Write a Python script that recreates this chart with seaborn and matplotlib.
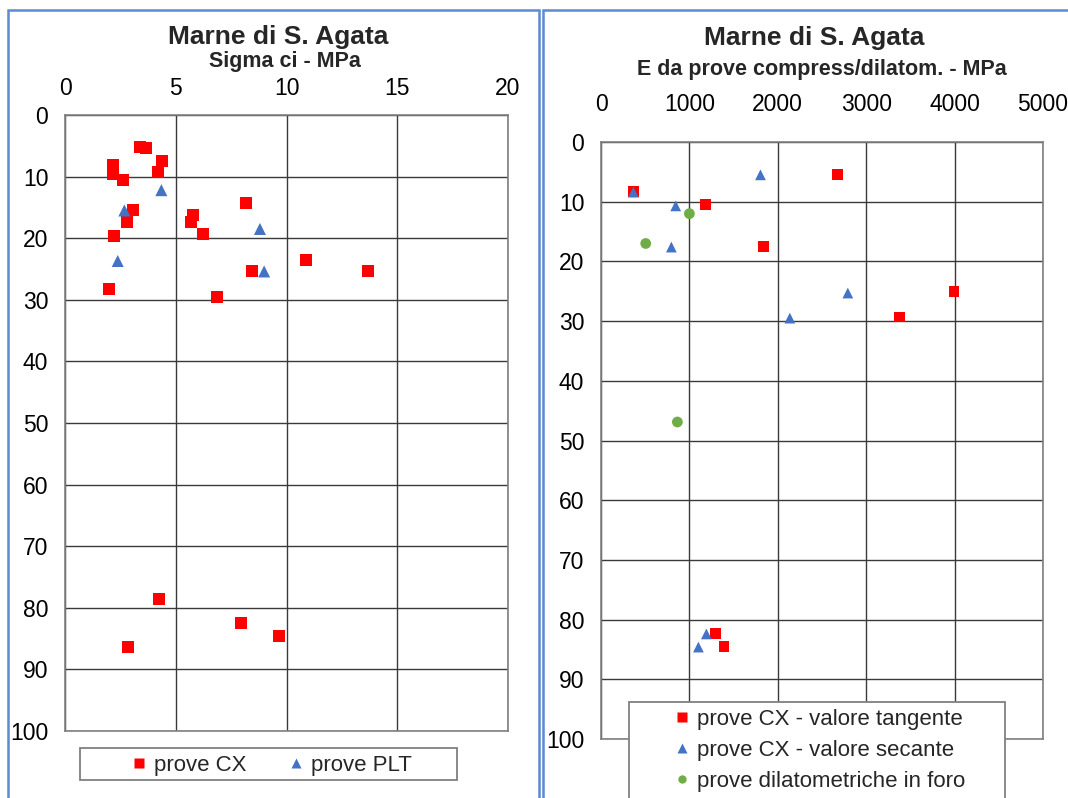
import numpy as np
import pandas as pd
import matplotlib
matplotlib.use("Agg")
import matplotlib.pyplot as plt
import seaborn as sns
from matplotlib.patches import Rectangle

# Left chart: Sigma ci (MPa) vs depth (m)
cx_sigma = [3.37, 3.67, 4.38, 2.15, 2.15, 4.19, 2.6, 3.07, 2.79, 2.23, 8.18, 5.77, 5.71, 6.25,
            10.9, 13.69, 8.46, 1.97, 6.88, 4.26, 7.95, 9.65, 2.86]
cx_depth = [5.2, 5.4, 7.4, 8.2, 9.5, 9.2, 10.5, 15.5, 17.4, 19.6, 14.3, 16.3, 17.4, 19.3,
            23.5, 25.3, 25.4, 28.3, 29.5, 78.6, 82.4, 84.5, 86.4]
plt_sigma = [4.35, 2.68, 8.8, 2.38, 8.99]
plt_depth = [12.2, 15.5, 18.5, 23.7, 25.4]

# Right chart: E (MPa) vs depth (m)
tan_E = [366, 2675, 1181, 1834, 3992, 3374, 1291, 1392]
tan_depth = [8.25, 5.4, 10.5, 17.5, 25.1, 29.3, 82.3, 84.5]
sec_E = [366, 1804, 845, 796, 2792, 2136, 1192, 1102]
sec_depth = [8.4, 5.5, 10.7, 17.6, 25.3, 29.5, 82.4, 84.6]
dil_E = [1000, 506, 864]
dil_depth = [12.0, 17.0, 46.9]

RED = "#FF0000"
BLUE = "#4472C4"
GREEN = "#70AD47"

sns.set_theme(style="white")
plt.rcParams["font.family"] = ["Liberation Sans", "DejaVu Sans"]

W, H = 1068, 798
fig = plt.figure(figsize=(W / 100, H / 100), dpi=100)

def fbox(x0, y0, x1, y1):
    # pixel box (top-left origin) to figure fraction rect
    return [x0 / W, 1 - y1 / H, (x1 - x0) / W, (y1 - y0) / H]

def frame(x0, y0, x1, y1, color, lw, z=5):
    r = Rectangle((x0 / W, 1 - y1 / H), (x1 - x0) / W, (y1 - y0) / H,
                  transform=fig.transFigure, fc="white", ec=color, lw=lw, zorder=z)
    fig.patches.append(r)

# blue chart borders
fig.patches.append(Rectangle((8 / W, -0.01), (539 - 8) / W, 1 - 10 / H + 0.01,
                             transform=fig.transFigure, fill=False, ec="#5B8BD0", lw=1.8))
fig.patches.append(Rectangle((543 / W, -0.01), (1080 - 543) / W, 1 - 10 / H + 0.01,
                             transform=fig.transFigure, fill=False, ec="#5B8BD0", lw=1.8))

left = pd.DataFrame({
    "x": cx_sigma + plt_sigma,
    "depth": cx_depth + plt_depth,
    "serie": ["prove CX"] * len(cx_sigma) + ["prove PLT"] * len(plt_sigma),
})
right = pd.DataFrame({
    "x": tan_E + sec_E + dil_E,
    "depth": tan_depth + sec_depth + dil_depth,
    "serie": ["prove CX - valore tangente"] * len(tan_E)
             + ["prove CX - valore secante"] * len(sec_E)
             + ["prove dilatometriche in foro"] * len(dil_E),
})


def style_axis(ax, xmax, xstep, xpad, ypad):
    ax.set_xlim(0, xmax)
    ax.set_ylim(100, 0)
    ax.set_xticks(np.arange(0, xmax + 1, xstep))
    ax.set_yticks(np.arange(0, 101, 10))
    ax.xaxis.tick_top()
    ax.tick_params(axis="both", length=0, labelsize=16.5, colors="black")
    ax.tick_params(axis="x", pad=xpad)
    ax.tick_params(axis="y", pad=ypad)
    ax.grid(True, color="#3a3a3a", lw=1.0)
    ax.set_axisbelow(True)
    for s in ax.spines.values():
        s.set_color("#808080")
        s.set_linewidth(1.2)
    ax.set_xlabel("")
    ax.set_ylabel("")


ax1 = fig.add_axes(fbox(65, 115, 508, 731))
sns.scatterplot(data=left, x="x", y="depth", hue="serie", style="serie",
                palette={"prove CX": RED, "prove PLT": BLUE},
                markers={"prove CX": "s", "prove PLT": "^"},
                s=75, linewidth=0, ax=ax1, legend=False, zorder=3)
style_axis(ax1, 20, 5, 11, 12)

ax2 = fig.add_axes(fbox(601, 142, 1043, 739))
sns.scatterplot(data=right, x="x", y="depth", hue="serie", style="serie",
                palette={"prove CX - valore tangente": RED,
                         "prove CX - valore secante": BLUE,
                         "prove dilatometriche in foro": GREEN},
                markers={"prove CX - valore tangente": "s",
                         "prove CX - valore secante": "^",
                         "prove dilatometriche in foro": "o"},
                s=60, linewidth=0, ax=ax2, legend=False, zorder=3)
style_axis(ax2, 5000, 1000, 19, 12)

# titles
fig.text(278 / W, 1 - 37 / H, "Marne di S. Agata", ha="center", va="center",
         fontsize=19, fontweight="bold")
fig.text(285 / W, 1 - 62 / H, "Sigma ci - MPa", ha="center", va="center",
         fontsize=15.5, fontweight="bold")
fig.text(814 / W, 1 - 38 / H, "Marne di S. Agata", ha="center", va="center",
         fontsize=19, fontweight="bold")
fig.text(822 / W, 1 - 69 / H, "E da prove compress/dilatom. - MPa", ha="center", va="center",
         fontsize=15.5, fontweight="bold")

# legends (frames drawn separately, like the Excel fixed-size boxes)
frame(80, 748, 457, 780, "#808080", 1.3, z=1)
h1 = [plt.Line2D([], [], ls="", marker="s", ms=7, color=RED, mec="none"),
      plt.Line2D([], [], ls="", marker="^", ms=7, color=BLUE, mec="none")]
fig.legend(h1, ["prove CX", "prove PLT"], ncol=2, fontsize=16,
           loc="center left", bbox_to_anchor=(130 / W, 1 - 765 / H),
           frameon=False, handlelength=0.8, handletextpad=0.3, columnspacing=1.8,
           borderpad=0, borderaxespad=0)

frame(629, 702, 1005, 810, "#808080", 1.3, z=2)
h2 = [plt.Line2D([], [], ls="", marker="s", ms=7, color=RED, mec="none"),
      plt.Line2D([], [], ls="", marker="^", ms=7, color=BLUE, mec="none"),
      plt.Line2D([], [], ls="", marker="o", ms=6, color=GREEN, mec="none")]
leg2 = fig.legend(h2, ["prove CX - valore tangente", "prove CX - valore secante",
                       "prove dilatometriche in foro"], fontsize=16,
                  loc="upper left", bbox_to_anchor=(673 / W, 1 - 709 / H),
                  frameon=False, handlelength=0.8, handletextpad=0.3, labelspacing=0.45,
                  borderpad=0, borderaxespad=0)
leg2.set_zorder(6)

fig.savefig("out.png", dpi=100)
